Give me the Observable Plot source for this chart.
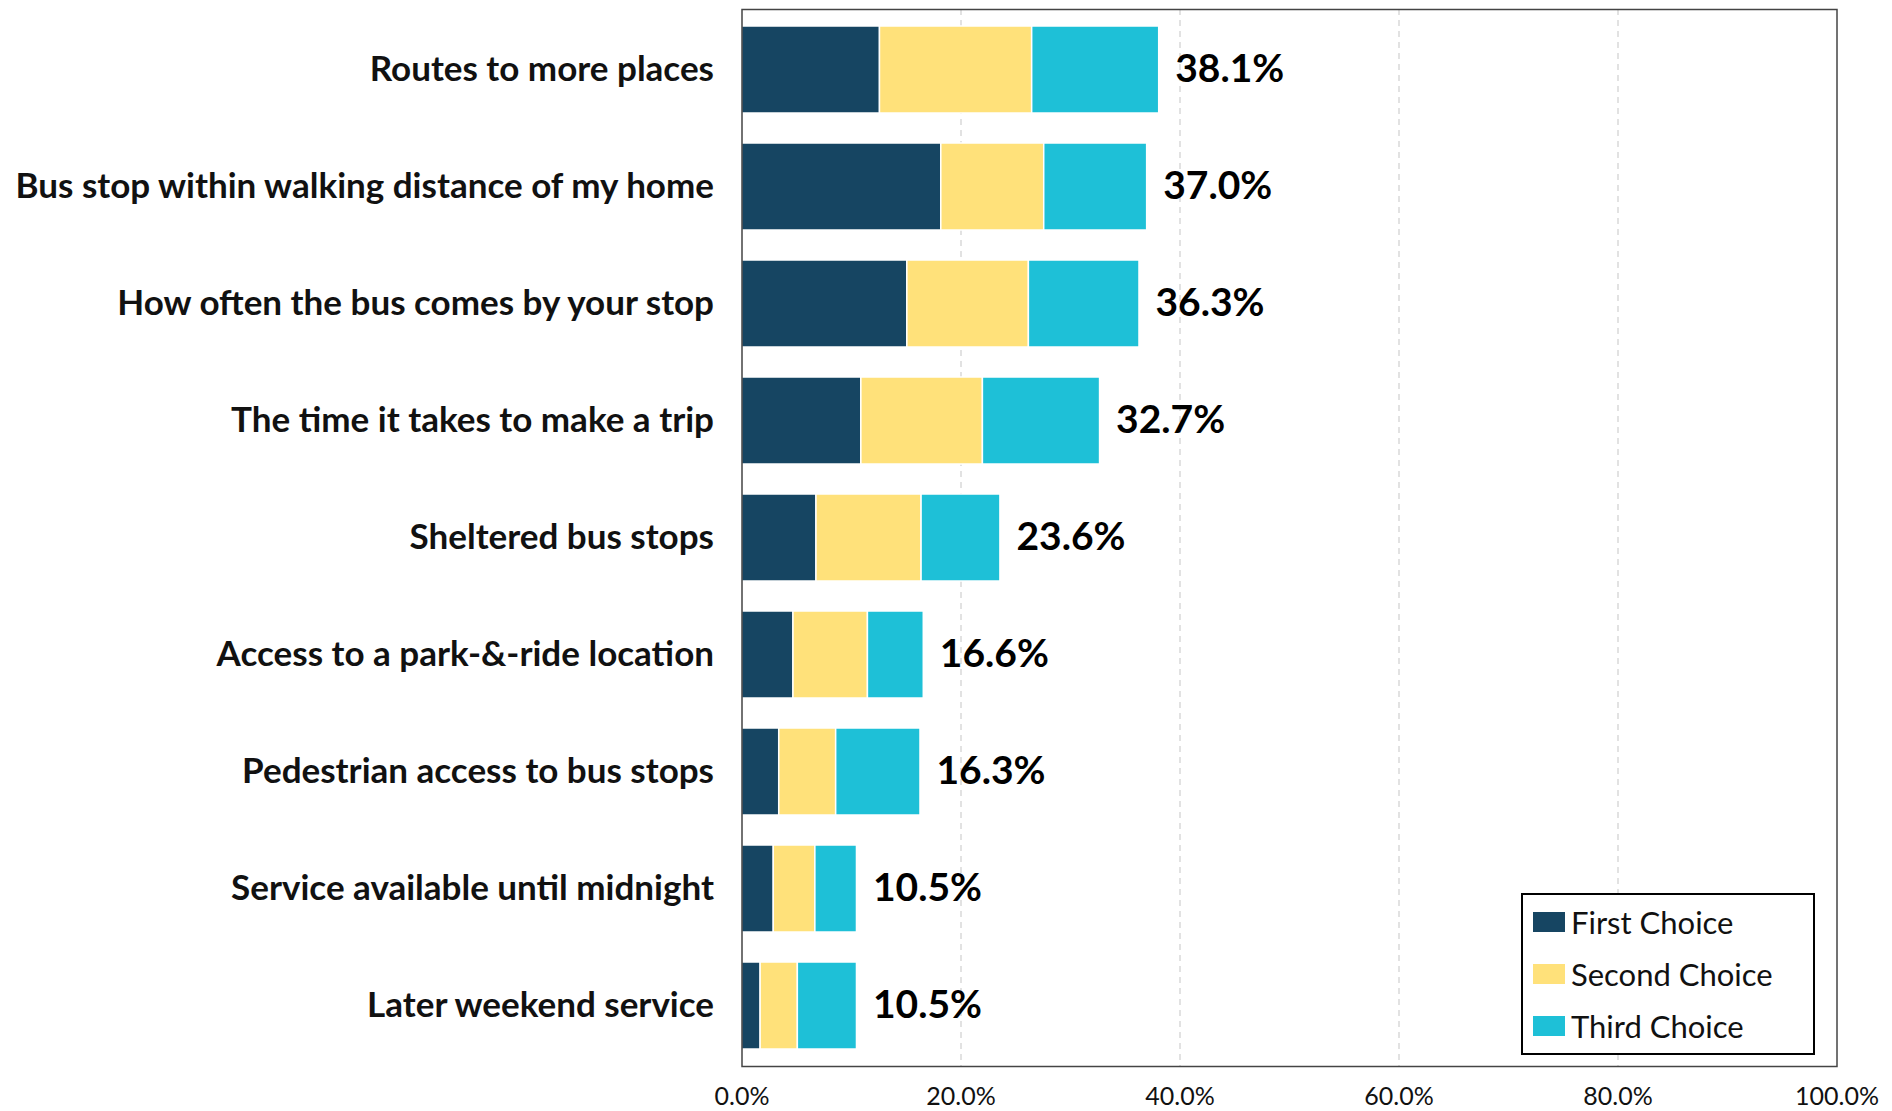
<!DOCTYPE html>
<html>
<head>
<meta charset="utf-8">
<script src="https://cdn.jsdelivr.net/npm/d3@7"></script>
<script src="https://cdn.jsdelivr.net/npm/@observablehq/plot@0.6"></script>
<style>
  html, body { margin: 0; padding: 0; background: #fff; }
  #wrap { position: relative; width: 1892px; height: 1111px; font-family: Lato, "Open Sans", sans-serif; }
  #legend { position: absolute; left: 1521px; top: 893px; width: 290px; height: 158px; border: 2.5px solid #000; background: #fff; box-sizing: content-box; }
  .item { position: absolute; left: 10px; display: flex; align-items: center; font-size: 31px; color: #111; }
  .sw { width: 32px; height: 20px; margin-right: 6px; }
</style>
</head>
<body>
<div id="wrap"></div>
<script>
const categories = [
  "Routes to more places",
  "Bus stop within walking distance of my home",
  "How often the bus comes by your stop",
  "The time it takes to make a trip",
  "Sheltered bus stops",
  "Access to a park-&-ride location",
  "Pedestrian access to bus stops",
  "Service available until midnight",
  "Later weekend service"
];
const seriesNames = ["First Choice", "Second Choice", "Third Choice"];
const firstChoice  = [12.6, 18.2, 15.1, 10.9, 6.8, 4.7, 3.4, 2.9, 1.7];
const secondChoice = [13.9,  9.4, 11.1, 11.1, 9.6, 6.8, 5.2, 3.8, 3.4];
const thirdChoice  = [11.6,  9.4, 10.1, 10.7, 7.2, 5.1, 7.7, 3.8, 5.4];
const totals       = [38.1, 37.0, 36.3, 32.7, 23.6, 16.6, 16.3, 10.5, 10.5];
const xTicks = [0, 20, 40, 60, 80, 100];
const colors = ["#164562", "#FFE17A", "#1EC0D7"];

const seriesValues = [firstChoice, secondChoice, thirdChoice];
const rows = [];
seriesNames.forEach((s, si) => {
  categories.forEach((c, ci) => rows.push({category: c, series: s, value: seriesValues[si][ci]}));
});
const totalRows = categories.map((c, i) => ({category: c, total: totals[i]}));

const chart = Plot.plot({
  width: 1892,
  height: 1111,
  marginLeft: 741.5,
  marginRight: 55.5,
  marginTop: 9,
  marginBottom: 45,
  style: {fontFamily: "Lato, 'Open Sans', sans-serif", background: "#fff", color: "#111", overflow: "visible"},
  x: {domain: [0, 100], ticks: xTicks, tickFormat: d => d.toFixed(1) + "%", label: null},
  y: {domain: categories, label: null, paddingInner: 0.26, paddingOuter: 0.13},
  color: {domain: seriesNames, range: colors},
  marks: [
    Plot.gridX(xTicks.filter(d => d > 0 && d < 100), {stroke: "#cfcfcf", strokeOpacity: 1, strokeDasharray: "6,5", strokeWidth: 1.2}),
    Plot.barX(rows, Plot.stackX({x: "value", y: "category", fill: "series", stroke: "#fff", strokeWidth: 1.5})),
    Plot.text(totalRows, {x: "total", y: "category", text: d => d.total.toFixed(1) + "%", textAnchor: "start", dx: 16, fontSize: 39, fontWeight: "bold", fill: "#000"}),
    Plot.frame({stroke: "#444", strokeWidth: 1.5}),
    Plot.axisX({ticks: xTicks, tickFormat: d => d.toFixed(1) + "%", tickSize: 0, tickPadding: 21, fontSize: 25, label: null}),
    Plot.axisY({tickSize: 0, tickPadding: 28, fontSize: 35, fontWeight: "bold", label: null})
  ]
});
document.getElementById("wrap").appendChild(chart);

const legend = document.createElement("div");
legend.id = "legend";
const tops = [8, 60, 112];
seriesNames.forEach((s, i) => {
  const it = document.createElement("div");
  it.className = "item";
  it.style.top = tops[i] + "px";
  const sw = document.createElement("div");
  sw.className = "sw";
  sw.style.background = colors[i];
  const tx = document.createElement("span");
  tx.textContent = s;
  it.appendChild(sw);
  it.appendChild(tx);
  legend.appendChild(it);
});
document.getElementById("wrap").appendChild(legend);
</script>
</body>
</html>
